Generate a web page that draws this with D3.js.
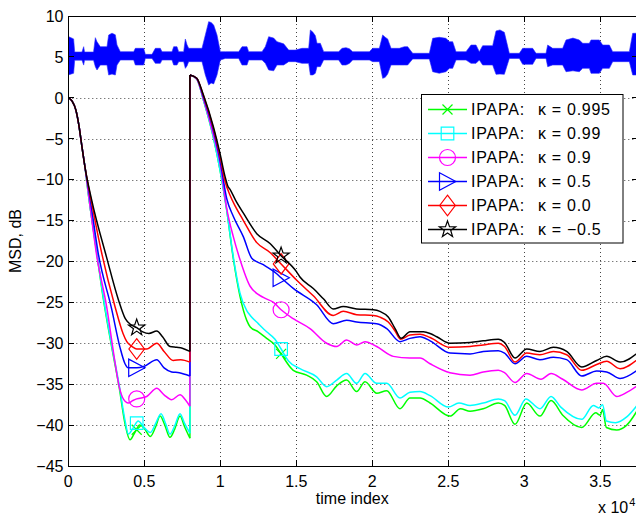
<!DOCTYPE html>
<html><head><meta charset="utf-8">
<script src="https://cdn.jsdelivr.net/npm/d3@7"></script>
<style>
body{margin:0;background:#fff;}
text{font-family:"Liberation Sans",Arial,Helvetica,sans-serif;fill:#000;}
</style>
</head><body>
<svg id="chart" width="636" height="515"></svg>
<script>
// ---------------- DATA ----------------
const xTicks = [0, 5000, 10000, 15000, 20000, 25000, 30000, 35000];
const xTickLabels = ["0", "0.5", "1", "1.5", "2", "2.5", "3", "3.5"];
const yTicks = [-45, -40, -35, -30, -25, -20, -15, -10, -5, 0, 5, 10];
const yTickLabels = ["\u221245", "\u221240", "\u221235", "\u221230", "\u221225", "\u221220", "\u221215", "\u221210", "\u22125", "0", "5", "10"];
const seriesPrefix = ["IPAPA:", "IPAPA:", "IPAPA:", "IPAPA:", "IPAPA:", "IPAPA:"];
const kappaLabels = ["\u03ba = 0.995", "\u03ba = 0.99", "\u03ba = 0.9", "\u03ba = 0.5", "\u03ba = 0.0", "\u03ba = \u22120.5"];
const markerTimes = [4500, 14000];

// speech signal envelope: [time, upper dB, lower dB]
const speech = [
[0,7.5,2.8],[350,7.2,3.0],[420,5.6,4.6],[900,5.6,4.6],[1011,6.25,4.0],[1070,5.6,4.6],[1660,5.6,4.6],
[1779,7.35,3.8],[1888,6.86,3.4],[2107,6.25,4.0],[2546,6.25,4.0],[2656,7.68,2.79],[2875,7.9,2.9],
[3094,7.7,2.79],[3204,6.45,4.0],[3423,5.64,4.62],[4300,5.64,4.62],[4410,6.05,4.01],[4958,6.05,4.01],
[5068,5.31,4.82],[5507,5.31,4.82],[5726,6.05,4.21],[6055,6.05,4.21],[6165,5.64,4.62],[6822,5.64,4.62],
[6932,6.25,4.01],[7151,6.25,4.01],[7261,5.64,4.42],[7590,5.64,4.42],[7700,7.19,3.6],[7810,6.5,3.9],
[7919,6.05,4.42],[8796,6.05,4.42],[9016,7.68,2.79],[9235,9.31,1.56],[9400,9.2,1.8],[9564,8.9,1.7],
[9783,7.68,2.79],[10003,5.64,4.62],[10332,5.64,4.82],[11209,5.64,4.82],[11428,6.25,4.01],[11757,6.25,4.01],
[11867,5.64,4.62],[12744,5.64,4.62],[12963,6.25,4.21],[13183,7.47,3.4],[13512,7.3,3.3],[13731,6.86,4.01],
[14170,6.6,4.01],[14499,5.84,4.42],[14937,5.84,4.42],[15376,6.05,4.21],[15814,6.05,4.21],[15924,8.29,2.79],
[16100,8.0,2.8],[16253,7.6,3.0],[16363,6.66,3.81],[16582,6.66,3.81],[16801,5.64,4.62],[17788,5.64,4.62],
[18007,6.05,4.01],[18270,6.13,4.01],[18490,6.0,4.2],[18709,5.64,4.62],[19805,5.64,4.62],[20024,6.05,4.42],
[20463,6.05,4.42],[20682,7.68,2.38],[20850,7.4,2.5],[21011,7.2,2.9],[21231,6.05,4.01],[21779,6.05,4.01],
[22108,6.25,4.01],[22327,6.25,4.01],[22656,5.44,4.74],[23753,5.44,4.74],[23972,7.27,3.19],[24400,7.4,3.0],
[24849,7.27,3.19],[25068,6.86,3.6],[25288,6.86,3.6],[25507,5.64,4.62],[26165,5.64,4.62],[26494,6.45,4.21],
[26823,6.45,4.21],[27042,5.64,4.62],[27261,6.37,4.01],[27919,6.37,4.01],[28139,8.17,2.87],[28400,8.3,2.9],
[28687,8.0,2.87],[29016,5.44,4.82],[29674,5.44,4.82],[29893,6.05,4.09],[30551,6.05,4.09],[30770,5.44,4.82],
[31428,5.44,4.82],[31538,6.45,3.81],[31867,6.05,4.01],[32525,6.05,4.01],[32744,7.07,3.19],[33200,7.3,3.3],
[33621,7.07,3.19],[33840,6.66,3.6],[34279,6.66,3.6],[34389,7.07,2.99],[34937,7.07,2.99],[35156,6.45,3.6],
[35595,6.45,3.6],[35814,5.64,4.42],[36911,5.64,4.42],[37130,7.88,2.79],[37500,7.9,2.8]
];

// MSD curves, first segment (before the echo path change) [time, dB]
const green1 = [[0,0],[250,-0.4],[500,-1.5],[700,-3.4],[900,-6.0],[1100,-8.5],[1320,-11.8],[1800,-18],[2300,-24.5],[2830,-30.2],[3340,-35.3],[3750,-40],[4060,-41.8],[4350,-41.0],[4700,-40.0],[5000,-40.4],[5400,-41.4],[5750,-40.2],[6040,-38.9],[6350,-40.0],[6690,-41.5],[7000,-40.5],[7350,-38.9],[7650,-40.2],[8000,-41.6]];
const cyan1 = [[0,0],[250,-0.4],[500,-1.5],[700,-3.4],[900,-6.0],[1100,-8.5],[1320,-11.8],[1800,-18],[2300,-24.3],[2830,-30],[3340,-35],[3750,-39.6],[3950,-41.1],[4250,-40.4],[4600,-39.5],[4950,-40.2],[5400,-40.9],[5750,-39.8],[6100,-38.6],[6400,-39.8],[6690,-41.1],[7000,-40.1],[7350,-38.6],[7650,-39.8],[8000,-41.0]];
const magenta1 = [[0,0],[250,-0.4],[500,-1.5],[700,-3.4],[900,-6.0],[1100,-8.5],[1380,-12.5],[1870,-19.3],[2520,-25.5],[3070,-32.3],[3350,-35.3],[3620,-36.8],[3950,-37.3],[4250,-37.0],[4500,-36.8],[5160,-36.5],[5820,-35.5],[6300,-36.3],[6800,-36.9],[7350,-36.3],[7700,-36.9],[8000,-37.7]];
const blue1 = [[0,0],[250,-0.4],[500,-1.5],[700,-3.4],[900,-6.0],[1100,-8.5],[1450,-12.5],[1970,-19.0],[2850,-25.8],[3400,-30.5],[3730,-32.5],[3950,-33.0],[4500,-33.0],[5000,-32.8],[5820,-32.0],[6300,-33.0],[6800,-33.5],[7300,-33.6],[8000,-34.0]];
const red1 = [[0,0],[250,-0.4],[500,-1.5],[700,-3.4],[900,-6.0],[1100,-8.5],[1500,-12.5],[2200,-19.0],[3070,-25.5],[3600,-28.8],[3850,-29.8],[4200,-30.4],[4500,-30.7],[5160,-30.7],[5820,-30.0],[6300,-31.0],[6900,-32.1],[7400,-32.0],[8000,-32.3]];
const black1 = [[0,0],[250,-0.4],[500,-1.5],[700,-3.4],[900,-6.0],[1100,-8.5],[1540,-12.5],[2520,-19.5],[3300,-24.7],[3750,-27.0],[4100,-27.7],[4500,-28.1],[4900,-28.6],[5300,-28.8],[5820,-28.5],[6200,-29.2],[6690,-30.4],[7130,-30.5],[7500,-30.6],[8000,-31.0]];

// MSD curves, second segment (after the echo path change)
const green2 = [[8000,2.8],[8450,2.3],[8880,-0.2],[9540,-4.8],[9980,-8.8],[10420,-13.7],[10860,-19.7],[11300,-24.3],[11740,-27.2],[11970,-28.0],[12500,-28.6],[13050,-29.4],[13600,-30.2],[14000,-31.3],[14800,-33.3],[15680,-33.9],[16340,-34.7],[17000,-36.5],[17660,-35.2],[18310,-34.5],[18970,-35.9],[19520,-34.7],[20290,-36.1],[20950,-35.8],[21820,-38.0],[22480,-36.7],[23140,-36.7],[23800,-37.3],[25110,-38.9],[25800,-38.0],[26430,-38.3],[27300,-38.0],[28290,-37.3],[28700,-37.6],[29390,-39.9],[30160,-37.3],[31030,-38.9],[31760,-37.0],[32530,-38.8],[33780,-40.3],[34700,-38.5],[35000,-38.8],[35150,-38.1],[35400,-40.3],[36080,-40.6],[36740,-40.0],[37500,-38.0]];
const cyan2 = [[8000,2.8],[8450,2.3],[8880,-0.2],[9540,-4.8],[9980,-8.8],[10420,-13.7],[10860,-19.5],[11300,-23.9],[11740,-26.0],[11970,-26.6],[12500,-27.6],[13050,-28.6],[13600,-29.5],[14000,-30.7],[14500,-32.2],[15240,-33.1],[16340,-34.1],[17000,-35.3],[17660,-34.5],[18310,-33.7],[18970,-34.9],[19520,-33.7],[20290,-34.9],[20950,-34.9],[21820,-36.7],[22480,-36.0],[23140,-35.9],[23800,-36.4],[25000,-37.8],[25700,-37.3],[26430,-37.6],[27300,-37.3],[28290,-36.8],[28700,-37.0],[29390,-38.8],[30100,-36.8],[31030,-38.0],[31760,-36.5],[32400,-37.8],[33780,-39.3],[34540,-37.6],[34900,-37.9],[35150,-37.5],[35400,-39.5],[36000,-39.7],[36740,-39.0],[37500,-37.4]];
const magenta2 = [[8000,2.8],[8450,2.3],[8880,-0.1],[9540,-4.5],[9980,-8.0],[10420,-13.5],[10860,-17.0],[11300,-19.8],[11950,-23.0],[12830,-24.4],[13500,-25.0],[14000,-25.9],[14800,-27.0],[15900,-28.2],[17000,-30.0],[17660,-30.4],[18310,-29.6],[18970,-30.2],[19520,-29.8],[20290,-30.4],[21380,-31.6],[22480,-31.8],[23140,-31.8],[23800,-32.5],[25110,-33.6],[26430,-33.9],[27300,-33.5],[28290,-33.3],[28700,-33.6],[29390,-34.8],[30160,-33.7],[31100,-34.4],[31760,-33.7],[32530,-34.4],[33780,-35.7],[34760,-34.9],[35200,-34.9],[36080,-36.5],[36740,-36.0],[37500,-35.1]];
const blue2 = [[8000,2.8],[8450,2.4],[8880,0.1],[9540,-4.0],[9980,-7.6],[10420,-12.3],[10860,-14.5],[11520,-17.0],[12070,-19.6],[12830,-20.4],[13710,-21.5],[14000,-22.0],[14800,-23.3],[16340,-25.3],[17430,-27.6],[18310,-27.2],[18970,-27.4],[20290,-27.6],[20950,-28.2],[21820,-29.8],[22480,-29.4],[23140,-29.2],[23800,-29.7],[25110,-31.2],[26430,-31.3],[27300,-31.0],[28290,-30.9],[28700,-31.2],[29390,-32.5],[30160,-31.6],[31030,-32.0],[31910,-31.7],[32790,-32.0],[33780,-34.0],[34760,-33.4],[35420,-33.5],[36300,-34.3],[37500,-33.2]];
const red2 = [[8000,2.8],[8450,2.4],[8880,0.3],[9540,-3.7],[9980,-7.1],[10310,-10.2],[10640,-11.9],[11000,-13.3],[11520,-15.0],[12400,-17.7],[13270,-18.9],[14000,-20.3],[15030,-22.3],[16120,-24.2],[17430,-26.6],[18090,-26.1],[18970,-26.5],[20070,-26.6],[20500,-26.8],[21050,-27.4],[21500,-28.5],[21850,-29.5],[22480,-29.0],[23140,-28.9],[23800,-29.3],[25110,-30.5],[26430,-30.4],[27300,-30.2],[28290,-30.0],[28700,-30.4],[29390,-32.3],[30160,-31.2],[31030,-31.4],[31910,-31.0],[32790,-31.4],[33780,-33.3],[34760,-32.6],[35420,-32.2],[36300,-33.1],[37500,-31.9]];
const black2 = [[8000,2.8],[8450,2.4],[8880,0.4],[9540,-3.5],[9980,-6.8],[10310,-9.6],[10500,-10.8],[10640,-11.2],[11000,-12.5],[11520,-14.1],[12400,-16.6],[13270,-17.8],[14000,-19.3],[15030,-21.3],[15240,-21.9],[16120,-23.3],[16800,-24.6],[17430,-25.8],[18090,-25.5],[18970,-25.8],[20070,-25.9],[20500,-26.1],[21050,-26.8],[21500,-28.2],[21900,-29.4],[22480,-28.6],[23360,-28.6],[23800,-28.8],[24240,-29.2],[25110,-30.0],[26430,-29.9],[27300,-29.7],[28290,-29.5],[28700,-29.9],[29390,-31.8],[30160,-30.7],[31030,-31.0],[31910,-30.5],[32790,-31.0],[33780,-32.9],[34760,-32.1],[35420,-31.6],[36300,-32.3],[37500,-31.1]];

const seriesSeg1 = [green1, cyan1, magenta1, blue1, red1, black1];
const seriesSeg2 = [green2, cyan2, magenta2, blue2, red2, black2];

// ---------------- STYLE ----------------
const colors = ["#00ff00", "#00ffff", "#ff00ff", "#0000ff", "#ff0000", "#000000"];
const markers = ["x", "square", "circle", "tri", "diamond", "star"];

// ---------------- CHART ----------------
const svg = d3.select("#chart");
const L = 68.3, R = 638.3, T = 16, B = 466;
const x = d3.scaleLinear().domain([0, 37500]).range([L, R]);
const y = d3.scaleLinear().domain([-45, 10]).range([B, T]);

svg.append("rect").attr("width", 636).attr("height", 515).attr("fill", "#fff");

svg.append("defs").append("clipPath").attr("id", "clip")
  .append("rect").attr("x", L).attr("y", T).attr("width", R - L).attr("height", B - T);

// grid
const grid = svg.append("g").attr("stroke", "#444").attr("stroke-width", 1).attr("stroke-dasharray", "1,3");
xTicks.slice(1).forEach(t => {
  const px = Math.round(x(t)) + 0.5;
  grid.append("line").attr("x1", px).attr("x2", px).attr("y1", T).attr("y2", B);
});
yTicks.slice(1, -1).forEach(v => {
  const py = Math.round(y(v)) + 0.5;
  grid.append("line").attr("x1", L).attr("x2", R).attr("y1", py).attr("y2", py);
});

const plot = svg.append("g").attr("clip-path", "url(#clip)");

// speech signal
plot.append("path").datum(speech)
  .attr("fill", "#0000ff").attr("stroke", "#2a2aff").attr("stroke-opacity", 0.6).attr("stroke-width", 1)
  .attr("d", d3.area().x(d => x(d[0])).y0(d => y(d[2])).y1(d => y(d[1])));

const line = d3.line().x(d => x(d[0])).y(d => y(d[1])).curve(d3.curveMonotoneX);

function interp(arr, t) {
  for (let i = 1; i < arr.length; i++) {
    if (arr[i][0] >= t) {
      const a = arr[i - 1], b = arr[i];
      return a[1] + (b[1] - a[1]) * (t - a[0]) / (b[0] - a[0]);
    }
  }
  return arr[arr.length - 1][1];
}

function drawMarker(g, type, cx, cy, color) {
  const s = g.append("path").attr("fill", "none").attr("stroke", color).attr("stroke-width", 1.2);
  let d = "";
  if (type === "x") {
    d = `M${cx-5},${cy-5}L${cx+5},${cy+5}M${cx-5},${cy+5}L${cx+5},${cy-5}`;
  } else if (type === "square") {
    d = `M${cx-6.3},${cy-6.3}h12.6v12.6h-12.6Z`;
  } else if (type === "circle") {
    d = `M${cx+8},${cy}A8,8 0 1,1 ${cx-8},${cy}A8,8 0 1,1 ${cx+8},${cy}Z`;
  } else if (type === "tri") {
    d = `M${cx-8},${cy-8.7}L${cx+8.3},${cy}L${cx-8},${cy+8.7}Z`;
  } else if (type === "diamond") {
    d = `M${cx},${cy-10.3}L${cx+7.8},${cy}L${cx},${cy+10.3}L${cx-7.8},${cy}Z`;
  } else if (type === "star") {
    const pts = [];
    for (let k = 0; k < 10; k++) {
      const r = k % 2 === 0 ? 8.6 : 3.4;
      const a = -Math.PI / 2 + k * Math.PI / 5;
      pts.push([cx + r * Math.cos(a), cy + r * Math.sin(a)]);
    }
    d = "M" + pts.map(p => p[0].toFixed(2) + "," + p[1].toFixed(2)).join("L") + "Z";
  }
  s.attr("d", d);
}

seriesSeg1.forEach((s1, i) => {
  const s2 = seriesSeg2[i];
  const g = plot.append("g");
  const last = s1[s1.length - 1], first = s2[0];
  g.append("path").attr("fill", "none").attr("stroke", colors[i]).attr("stroke-width", 1.5)
    .attr("d", line(s1));
  g.append("path").attr("fill", "none").attr("stroke", colors[i]).attr("stroke-width", 1.5)
    .attr("d", `M${x(last[0])},${y(last[1])}L${x(first[0])},${y(first[1])}`);
  g.append("path").attr("fill", "none").attr("stroke", colors[i]).attr("stroke-width", 1.5)
    .attr("d", line(s2));
  drawMarker(g, markers[i], x(markerTimes[0]), y(interp(s1, markerTimes[0])), colors[i]);
  drawMarker(g, markers[i], x(markerTimes[1]), y(interp(s2, markerTimes[1])), colors[i]);
});

// axes box
const ax = svg.append("g").attr("stroke", "#000").attr("stroke-width", 1).attr("fill", "none");
ax.append("path").attr("d", `M${L},${T}H${R}V${B}H${L}Z`).attr("shape-rendering", "crispEdges");

// ticks (inward)
const ticks = svg.append("g").attr("stroke", "#000").attr("stroke-width", 1).attr("shape-rendering", "crispEdges");
xTicks.forEach(t => {
  const px = x(t);
  ticks.append("line").attr("x1", px).attr("x2", px).attr("y1", B).attr("y2", B - 6);
  ticks.append("line").attr("x1", px).attr("x2", px).attr("y1", T).attr("y2", T + 6);
});
yTicks.forEach(v => {
  const py = y(v);
  ticks.append("line").attr("x1", L).attr("x2", L + 6).attr("y1", py).attr("y2", py);
  ticks.append("line").attr("x1", R).attr("x2", R - 6).attr("y1", py).attr("y2", py);
});

// tick labels
const labels = svg.append("g").attr("font-size", 16);
xTicks.forEach((t, i) => {
  labels.append("text").attr("x", x(t)).attr("y", 486.5).attr("text-anchor", "middle").text(xTickLabels[i]);
});
yTicks.forEach((v, i) => {
  labels.append("text").attr("x", 63.5).attr("y", y(v) + 5.8).attr("text-anchor", "end").text(yTickLabels[i]);
});

// axis titles
svg.append("text").attr("x", (L + R) / 2 - 1).attr("y", 504).attr("text-anchor", "middle")
  .attr("font-size", 16).text("time index");
svg.append("text").attr("transform", "translate(21,241) rotate(-90)").attr("text-anchor", "middle")
  .attr("font-size", 16).text("MSD, dB");
const ex = svg.append("text").attr("x", 598).attr("y", 513).attr("font-size", 16);
ex.append("tspan").text("x 10");
ex.append("tspan").attr("font-size", 11).attr("dy", -7).attr("dx", 1).text("4");

// legend
const lg = svg.append("g");
lg.append("rect").attr("x", 421.5).attr("y", 94.5).attr("width", 201.5).attr("height", 148.5)
  .attr("fill", "#fff").attr("stroke", "#000").attr("stroke-width", 1);
colors.forEach((c, i) => {
  const cy = 109.5 + i * 24;
  lg.append("line").attr("x1", 428).attr("x2", 467).attr("y1", cy).attr("y2", cy)
    .attr("stroke", c).attr("stroke-width", 1.3);
  drawMarker(lg, markers[i], 447.5, cy, c);
  lg.append("text").attr("x", 471).attr("y", cy + 5.8).attr("font-size", 16)
    .attr("letter-spacing", 0.8).text(seriesPrefix[i]);
  lg.append("text").attr("x", 538).attr("y", cy + 5.8).attr("font-size", 16)
    .attr("letter-spacing", 0.7).text(kappaLabels[i]);
});
</script>
</body></html>
